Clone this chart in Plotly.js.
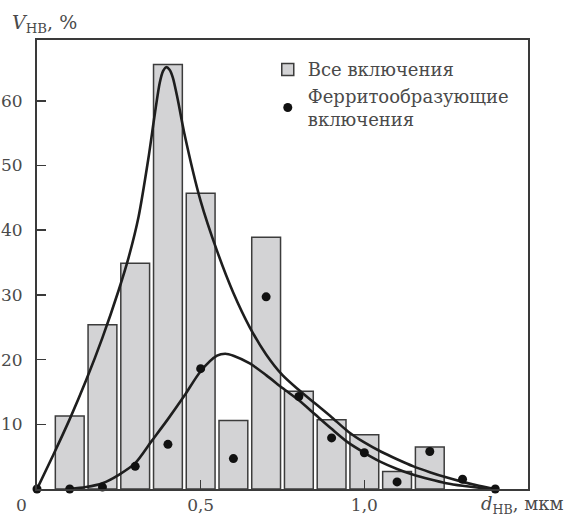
<!DOCTYPE html>
<html>
<head>
<meta charset="utf-8">
<script src="https://cdn.plot.ly/plotly-3.0.1.min.js"></script>
<style>html,body{margin:0;padding:0;background:#fff;}#chart{width:566px;height:517px;}</style>
</head>
<body>
<div id="chart"></div>
<script>
// Histogram: all inclusions (bin centres, µm / share, %)
const binCenters = [0.1, 0.2, 0.3, 0.4, 0.5, 0.6, 0.7, 0.8, 0.9, 1.0, 1.1, 1.2];
const allShares = [11.3, 25.4, 34.9, 65.6, 45.7, 10.6, 38.9, 15.1, 10.7, 8.4, 2.7, 6.5];

// Points: ferrite-forming inclusions
const ferriteD = [0, 0.1, 0.2, 0.3, 0.4, 0.5, 0.6, 0.7, 0.8, 0.9, 1.0, 1.1, 1.2, 1.3, 1.4];
const ferriteShares = [0, 0, 0.3, 3.5, 6.9, 18.6, 4.7, 29.7, 14.3, 7.9, 5.6, 1.1, 5.8, 1.5, 0];

// Smooth fitted curve for all inclusions
const curveAllD = [0, 0.05, 0.1, 0.15, 0.2, 0.25, 0.28, 0.31, 0.34, 0.36, 0.375, 0.385, 0.395, 0.405, 0.415, 0.43, 0.45, 0.5, 0.55, 0.6, 0.65, 0.7, 0.75, 0.8, 0.85, 0.9, 0.95, 1.0, 1.05, 1.1, 1.15, 1.2, 1.25, 1.3, 1.35, 1.4];
const curveAllV = [0, 5.3, 10.8, 16.8, 23.4, 30.8, 35.8, 42, 51, 58, 62.8, 64.6, 65.2, 64.8, 63.6, 60.2, 55, 44.5, 36.8, 30.3, 25, 20.8, 17.6, 15.3, 13.2, 11.1, 8.9, 7.2, 5.8, 4.6, 3.5, 2.6, 1.8, 1.1, 0.5, 0];

// Smooth fitted curve for ferrite-forming inclusions
const curveFerD = [0.1, 0.15, 0.2, 0.25, 0.3, 0.35, 0.4, 0.45, 0.5, 0.55, 0.575, 0.6, 0.65, 0.7, 0.75, 0.8, 0.85, 0.9, 0.95, 1.0, 1.05, 1.1, 1.15, 1.2, 1.25, 1.3, 1.35, 1.4];
const curveFerV = [0, 0.3, 0.9, 2.2, 4.0, 7.4, 10.8, 14.4, 18.2, 20.6, 20.9, 20.6, 19.4, 17.6, 15.6, 13.7, 11.5, 9.3, 7.2, 5.6, 4.2, 3.1, 2.2, 1.5, 0.9, 0.5, 0.2, 0];

const xTickVals = [0.5, 1.0];
const xTickText = ['0,5', '1,0'];
const yTickVals = [10, 20, 30, 40, 50, 60];

const serif = '"DejaVu Serif", "Liberation Serif", serif';
const textColor = '#4a4a4a';
const axisColor = '#3a3a3a';

const traces = [
  {
    type: 'bar', x: binCenters, y: allShares, width: 0.088,
    name: 'Все включения',
    marker: {color: '#d3d3d5', line: {color: '#3c3c3c', width: 1.5}},
    hoverinfo: 'x+y'
  },
  {
    type: 'scatter', mode: 'lines', x: curveAllD, y: curveAllV,
    line: {color: '#1e1e1e', width: 2.6, shape: 'spline', smoothing: 0.8},
    showlegend: false, hoverinfo: 'skip', cliponaxis: false
  },
  {
    type: 'scatter', mode: 'lines', x: curveFerD, y: curveFerV,
    line: {color: '#1e1e1e', width: 2.6, shape: 'spline', smoothing: 0.8},
    showlegend: false, hoverinfo: 'skip', cliponaxis: false
  },
  {
    type: 'scatter', mode: 'markers', x: ferriteD, y: ferriteShares,
    name: 'Ферритообразующие<br>включения',
    marker: {color: '#111', size: 9},
    cliponaxis: false
  }
];

const layout = {
  width: 566, height: 517,
  margin: {l: 37, r: 38, t: 40, b: 28, pad: 0},
  paper_bgcolor: '#fff', plot_bgcolor: '#fff',
  font: {family: serif, size: 17, color: textColor},
  showlegend: true,
  legend: {
    x: 0.47, y: 0.975, xanchor: 'left', yanchor: 'top',
    bgcolor: 'rgba(0,0,0,0)', borderwidth: 0,
    font: {family: serif, size: 18, color: textColor},
    tracegroupgap: 0
  },
  xaxis: {
    range: [0, 1.5], showgrid: false, zeroline: false,
    showline: true, mirror: true, linecolor: axisColor, linewidth: 2,
    ticks: 'inside', ticklen: 9, tickwidth: 1.5, tickcolor: axisColor,
    tickvals: xTickVals, ticktext: xTickText,
    tickfont: {family: serif, size: 17, color: textColor}
  },
  yaxis: {
    range: [0, 69.4], showgrid: false, zeroline: false,
    showline: true, mirror: true, linecolor: axisColor, linewidth: 2,
    ticks: 'inside', ticklen: 9, tickwidth: 1.5, tickcolor: axisColor,
    tickvals: yTickVals, ticklabelstandoff: 9,
    tickfont: {family: serif, size: 17, color: textColor}
  },
  bargap: 0,
  annotations: [
    {xref: 'paper', yref: 'paper', x: 0, y: 1.0, xanchor: 'left', yanchor: 'bottom', yshift: 2, xshift: -27,
     text: '<i>V</i><sub>НВ</sub>, %', showarrow: false, font: {family: serif, size: 19, color: textColor}},
    {xref: 'paper', yref: 'paper', x: 1.0, y: 0, xanchor: 'right', yanchor: 'top', xshift: 37, yshift: -2,
     text: '<i>d</i><sub>НВ</sub>, мкм', showarrow: false, font: {family: serif, size: 18, color: textColor}},
    {xref: 'paper', yref: 'paper', x: 0, y: 0, xanchor: 'center', yanchor: 'top', xshift: -16, yshift: -4,
     text: '0', showarrow: false, font: {family: serif, size: 17, color: textColor}}
  ]
};

Plotly.newPlot('chart', traces, layout, {staticPlot: true, displayModeBar: false});
</script>
</body>
</html>
